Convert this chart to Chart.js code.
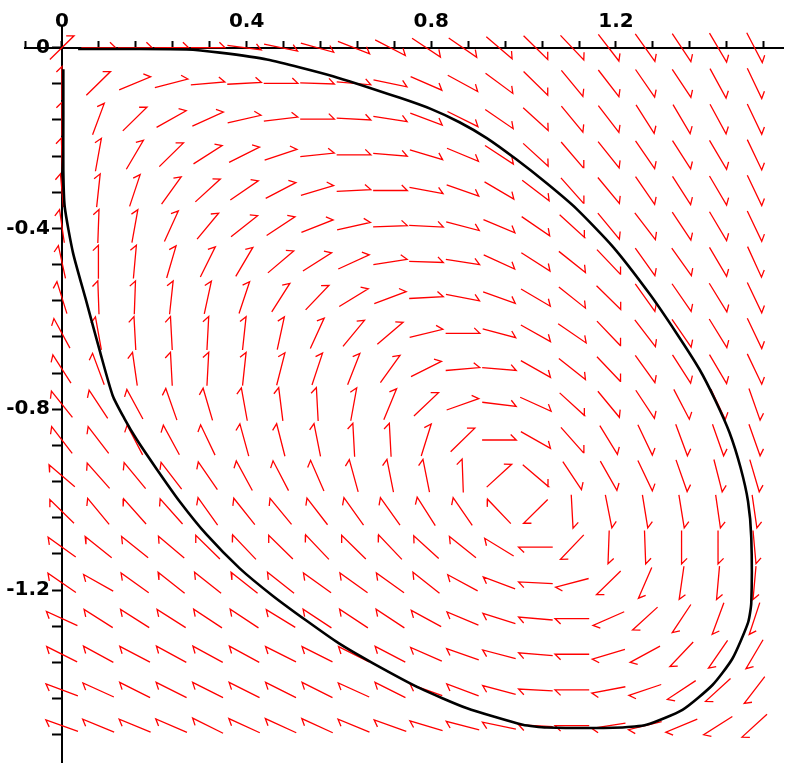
<!DOCTYPE html>
<html><head><meta charset="utf-8">
<script src="https://cdn.jsdelivr.net/npm/chart.js@4.4.1/dist/chart.umd.min.js"></script>
<style>html,body{margin:0;padding:0;background:#fff;}#wrap{width:785px;height:777px;}</style>
</head><body><div id="wrap"><canvas id="c" width="785" height="777"></canvas></div>
<script>
// ---- data ----
const gridX = [0, 0.079, 0.158, 0.237, 0.316, 0.395, 0.474, 0.553, 0.632, 0.711, 0.789, 0.868, 0.947, 1.026, 1.105, 1.184, 1.263, 1.342, 1.421, 1.5];
const gridY = [0, -0.079, -0.158, -0.237, -0.316, -0.395, -0.474, -0.553, -0.632, -0.711, -0.789, -0.868, -0.947, -1.026, -1.105, -1.184, -1.263, -1.342, -1.421, -1.5];
// arrow direction (degrees) read per grid row (row = gridY index, column = gridX index)
const arrowAngles = [
  [45, 0, 0, 0, 0, -8, -12, -16, -22, -28, -34, -35, -41, -45, -47, -53, -55, -57, -60, -63],
  [90, 45, 23, 15, 5, 3, 0, -2, -5, -12, -24, -29, -37, -45, -51, -53, -56, -57, -62, -65],
  [90, 70, 45, 30, 25, 13, 7, 0, -3, -9, -21, -27, -35, -43, -51, -53, -58, -60, -62, -65],
  [92, 80, 60, 45, 33, 27, 19, 6, 0, -5, -17, -23, -34, -43, -50, -52, -56, -58, -60, -65],
  [95, 84, 72, 55, 43, 35, 28, 17, 3, 0, -11, -20, -31, -38, -49, -51, -56, -58, -60, -65],
  [98, 88, 80, 66, 51, 39, 34, 22, 13, 2, -3, -15, -23, -35, -43, -51, -53, -57, -60, -65],
  [102, 90, 85, 74, 64, 60, 41, 33, 25, 9, -2, -9, -25, -33, -39, -47, -55, -55, -60, -66],
  [107, 92, 88, 84, 78, 72, 58, 47, 32, 21, 3, -11, -20, -31, -39, -45, -55, -56, -59, -65],
  [118, 100, 93, 93, 87, 84, 78, 66, 51, 41, 14, 0, -15, -30, -35, -47, -53, -56, -59, -65],
  [122, 110, 98, 93, 87, 84, 76, 72, 69, 55, 27, 5, -5, -30, -39, -47, -55, -58, -60, -65],
  [128, 123, 118, 109, 106, 100, 97, 93, 80, 68, 44, 20, -7, -25, -43, -51, -57, -63, -65, -71],
  [127, 127, 117, 118, 115, 105, 104, 101, 93, 93, 73, 45, 0, -30, -49, -59, -65, -70, -71, -71],
  [139, 131, 129, 127, 124, 118, 117, 113, 105, 101, 101, 92, 43, -41, -57, -61, -65, -71, -76, -74],
  [135, 129, 131, 131, 125, 128, 129, 127, 125, 125, 122, 124, 133, -135, -87, -79, -81, -81, -82, -82],
  [144, 141, 141, 139, 135, 133, 135, 133, 135, 133, 137, 141, 148, 180, -133, -92, -88, -90, -90, -85],
  [145, 150, 144, 141, 141, 141, 141, 144, 144, 144, 141, 151, 159, 177, -165, -135, -113, -98, -95, -95],
  [155, 147, 147, 147, 146, 146, 148, 146, 146, 146, 151, 157, 162, 175, 180, -156, -137, -123, -110, -108],
  [153, 151, 152, 151, 151, 151, 153, 153, 153, 152, 156, 160, 165, 175, 180, -163, -151, -133, -124, -120],
  [159, 155, 153, 153, 153, 153, 153, 153, 155, 153, 160, 159, 165, 177, 180, -169, -161, -146, -137, -127],
  [160, 157, 157, 156, 153, 155, 155, 155, 157, 160, 163, 165, 168, 177, 180, -171, -166, -157, -147, -137]
];
// trajectory (black curve)
const curveX = [0.035, 0.15, 0.27, 0.342, 0.444, 0.587, 0.732, 0.80, 0.861, 0.92, 0.984, 1.05, 1.114, 1.193, 1.273, 1.33, 1.381, 1.415, 1.446, 1.47, 1.486, 1.493, 1.493, 1.486, 1.452, 1.409, 1.344, 1.266, 1.214, 1.05, 0.998, 0.876, 0.775, 0.674, 0.6, 0.53, 0.457, 0.385, 0.313, 0.255, 0.205, 0.162, 0.135, 0.11, 0.082, 0.053, 0.024, 0.006, 0.003, 0.003, 0.003];
const curveY = [-0.003, -0.003, -0.004, -0.011, -0.026, -0.063, -0.111, -0.136, -0.165, -0.2, -0.247, -0.3, -0.356, -0.44, -0.545, -0.63, -0.712, -0.78, -0.852, -0.93, -1.004, -1.084, -1.228, -1.272, -1.352, -1.41, -1.465, -1.498, -1.504, -1.504, -1.498, -1.461, -1.417, -1.362, -1.318, -1.268, -1.213, -1.152, -1.077, -1.004, -0.932, -0.867, -0.82, -0.77, -0.671, -0.562, -0.454, -0.352, -0.272, -0.15, -0.048];
// tick labels
const xTickValues = [0, 0.4, 0.8, 1.2];
const xTickLabels = ['0', '0.4', '0.8', '1.2'];
const yTickValues = [0, -0.4, -0.8, -1.2];
const yTickLabels = ['0', '-0.4', '-0.8', '-1.2'];

// ---- styles ----
const HALF = 0.037;   // half arrow length (data units)
const BARB = 0.017;   // arrow head barb length
const D2R = Math.PI / 180;
const Y_LABEL_ANCHOR = -0.026; // x value where y labels end (right aligned)

const arrowPts = [];
for (let j = 0; j < gridY.length; j++) {
  for (let i = 0; i < gridX.length; i++) {
    const a = arrowAngles[j][i] * D2R;
    const cx = gridX[i], cy = gridY[j];
    const dx = Math.cos(a) * HALF, dy = Math.sin(a) * HALF;
    const tx = cx + dx, ty = cy + dy;
    const b = a + 135 * D2R;
    arrowPts.push({x: cx - dx, y: cy - dy});
    arrowPts.push({x: tx, y: ty});
    arrowPts.push({x: tx + Math.cos(b) * BARB, y: ty + Math.sin(b) * BARB});
    arrowPts.push({x: tx, y: null});
  }
}
const curvePts = curveX.map((x, k) => ({x: x, y: curveY[k]}));

function labelFor(values, labels) {
  return function (v) {
    for (let k = 0; k < values.length; k++) {
      if (Math.abs(v - values[k]) < 1e-6) return labels[k];
    }
    return '';
  };
}
const tickFont = {family: 'DejaVu Sans', size: 20, weight: 'bold'};
const Y_MIN = -1.5804, Y_MAX = 0.0457;

new Chart(document.getElementById('c'), {
  type: 'scatter',
  data: {
    datasets: [
      {data: curvePts, showLine: true, borderColor: '#000000', borderWidth: 2.6, pointRadius: 0,
       tension: 0.2, order: 0, clip: false},
      {data: arrowPts, showLine: true, spanGaps: false, borderColor: '#ff0000', borderWidth: 1.3, pointRadius: 0,
       tension: 0, order: 1, clip: false}
    ]
  },
  options: {
    responsive: false,
    animation: false,
    devicePixelRatio: 1,
    layout: {padding: {left: 25, top: 27, right: 2, bottom: 2}},
    plugins: {legend: {display: false}, tooltip: {enabled: false}},
    scales: {
      x: {
        type: 'linear', position: {y: 0}, min: -0.08, max: 1.5617,
        grid: {drawOnChartArea: false, drawTicks: true, tickLength: -8, tickWidth: 2, tickColor: '#000'},
        border: {display: true, color: '#000', width: 2},
        ticks: {stepSize: 0.08, includeBounds: false, autoSkip: false, maxRotation: 0, minRotation: 0, padding: -30,
          font: tickFont, color: '#000', callback: labelFor(xTickValues, xTickLabels)}
      },
      y: {
        type: 'linear', position: {x: 0}, min: Y_MIN, max: Y_MAX,
        grid: {drawOnChartArea: false, drawTicks: true, tickLength: 9, tickWidth: 2, tickColor: '#000'},
        border: {display: true, color: '#000', width: 2},
        ticks: {stepSize: 0.08, includeBounds: false, autoSkip: false, font: tickFont, color: '#000',
          callback: () => ''}
      },
      yLabels: {
        type: 'linear', axis: 'y', position: {x: Y_LABEL_ANCHOR}, min: Y_MIN, max: Y_MAX,
        grid: {display: false, drawTicks: false},
        border: {display: false},
        ticks: {stepSize: 0.08, includeBounds: false, autoSkip: false, padding: 0, font: tickFont, color: '#000',
          callback: labelFor(yTickValues, yTickLabels)}
      }
    }
  }
});
</script></body></html>
